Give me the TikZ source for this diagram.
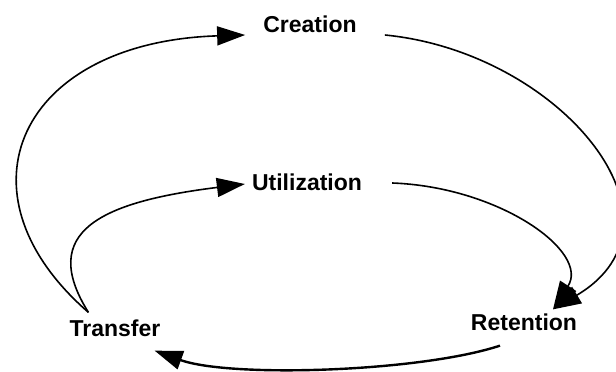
\documentclass[tikz,border=0pt]{standalone}
\usepackage{fontspec}
\setmainfont{Liberation Sans}
\usetikzlibrary{arrows.meta}
\tikzstyle{stage} = [font=\fontsize{23}{26}\selectfont\bfseries, inner sep=2pt]
\tikzstyle{flow} = [line width=1.6pt, -{Triangle[length=28pt,width=19pt]}]

\begin{document}
\begin{tikzpicture}[x=1pt,y=1pt]
	\useasboundingbox (0,0) rectangle (616,372);
	\node[stage](creation) at (310,348){Creation};
	\node[stage](utilization) at (307,190){Utilization};
	\node[stage](transfer) at (115,44){Transfer};
	\node[stage](retention) at (524,50){Retention};
	
	% outer loop
	\draw[flow]([xshift=21pt,yshift=5pt]transfer.north west) .. controls (-50,180) and (20,330) .. ([xshift=-16pt,yshift=-11pt]creation.west);
	\draw[flow]([xshift=26pt,yshift=-11pt]creation.east) .. controls (560,320) and (700,150) .. ([xshift=29pt,yshift=2pt]retention.north);
	% inner loop
	\draw[flow]([xshift=21pt,yshift=5pt]transfer.north west) .. controls (38,140) and (100,170) .. ([xshift=-5pt,yshift=-2pt]utilization.west);
	\draw[flow]([xshift=28pt,yshift=-1pt]utilization.east) .. controls (500,185) and (590,120) .. ([xshift=29pt,yshift=2pt]retention.north);
	% back to transfer
	\draw[flow,line width=2.4pt]([xshift=-24pt,yshift=-13pt]retention.south) .. controls (420,0) and (230,-6) .. ([xshift=-8pt,yshift=-12pt]transfer.south east);
\end{tikzpicture}
\end{document}
